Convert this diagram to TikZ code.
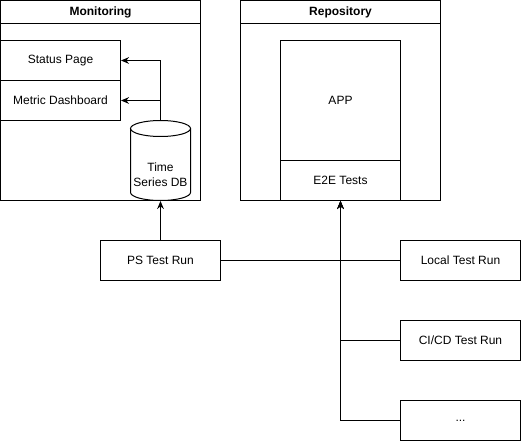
\documentclass[tikz,border=0pt]{standalone}
\usepackage{fontspec}
\setmainfont{Liberation Sans}
\usepackage{tikz}
\usetikzlibrary{arrows.meta, positioning}

\begin{document}
\begin{tikzpicture}[x=0.75pt, y=-0.75pt, line width=0.75pt,
    font=\fontsize{9}{11.25}\selectfont,
    box/.style={draw, rectangle, minimum width=90pt, minimum height=30pt, inner sep=0pt},
    frame/.style={draw, rectangle, minimum width=150pt, minimum height=150pt, inner sep=0pt},
    title/.style={font=\fontsize{9}{11.25}\selectfont\bfseries},
    arr/.style={-{Stealth[length=6pt, width=5pt]}}]
                        \useasboundingbox (-0.5,-0.5) rectangle (520.5,440.5);
                        % the two containers
                        \node[frame] (mon) at (100, 100) {};
                        \node[frame] (repo) at (340, 100) {};
                        \draw (0, 23) -- (200, 23) (240, 23) -- (440, 23);
                        \node[title] (montitle) at (100, 12) {Monitoring};
                        \node[title] (repotitle) at (340, 12) {Repository};
                        % monitoring side
                        \node[box] (status) at (60, 60) {Status Page};
                        \node[box] (metric) at (60, 100) {Metric Dashboard};
                        \node[minimum width=45pt, minimum height=60pt, inner sep=0pt] (db) at (160, 160) {};
                        \draw (130, 128) -- (130, 192) arc[start angle=180, end angle=360, x radius=22.5pt, y radius=6pt] -- (190, 128);
                        \draw (160, 128) ellipse (22.5pt and 6pt);
                        \node[align=center] (dbtext) at (160, 174) {Time\\Series DB};
                        % repository side
                        \node[box, minimum height=90pt] (app) at (340, 100) {APP};
                        \node[box] (e2e) at (340, 180) {E2E Tests};
                        % test runs
                        \node[box] (ps) at (160, 260) {PS Test Run};
                        \node[box] (local) at (460, 260) {Local Test Run};
                        \node[box] (cicd) at (460, 340) {CI/CD Test Run};
                        \node[box] (more) at (460, 420) {...};
                        \draw[arr] (db.north) |- (status.east);
                        \draw[arr] (db.north) |- (metric.east);
                        \draw[arr] (ps.north) -- (db.south);
                        \draw[arr] (ps.east) -| (e2e.south);
                        \draw[arr] (local.west) -| (e2e.south);
                        \draw[arr] (cicd.west) -| (e2e.south);
                        \draw[arr] (more.west) -| (e2e.south);
                    \end{tikzpicture}
\end{document}
